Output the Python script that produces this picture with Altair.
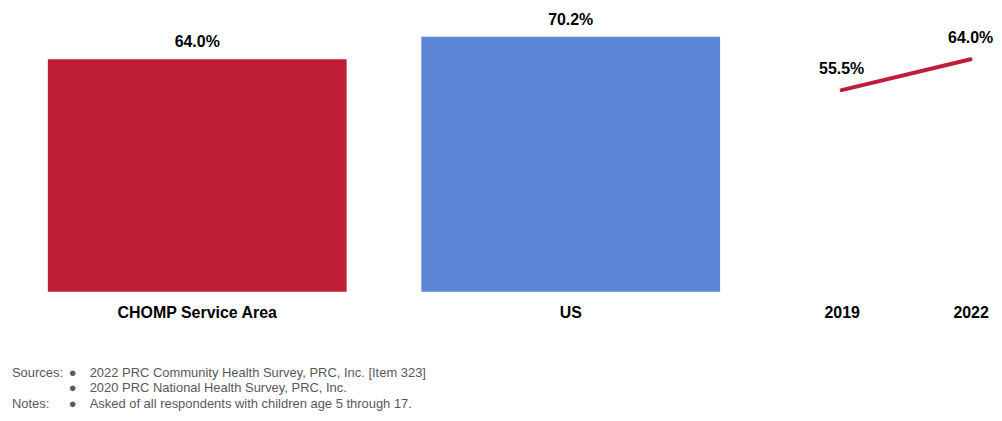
import altair as alt
import pandas as pd

areas = ["CHOMP Service Area", "US"]
area_values = [64.0, 70.2]
area_colors = ["#BE1E37", "#5B86D6"]

years = ["2019", "2022"]
trend_values = [55.5, 64.0]

source_lines = [
    "2022 PRC Community Health Survey, PRC, Inc. [Item 323]",
    "2020 PRC National Health Survey, PRC, Inc.",
]
note_lines = ["Asked of all respondents with children age 5 through 17."]

FONT = "Liberation Sans"
YMAX = 77.9

bars_df = pd.DataFrame({"area": areas, "value": area_values,
                        "label": [f"{v:.1f}%" for v in area_values]})
trend_df = pd.DataFrame({"year": years, "value": trend_values,
                         "label": [f"{v:.1f}%" for v in trend_values]})

yscale = alt.Scale(domain=[0, YMAX], nice=False, zero=True)

def xaxis():
    return alt.Axis(title=None, labelAngle=0, domain=False, ticks=False,
                    labelFontSize=16, labelFontWeight="bold", labelColor="black",
                    labelFont=FONT, labelPadding=13)

bx = alt.X("area:N", sort=areas,
           scale=alt.Scale(paddingInner=0.2, paddingOuter=0.1067), axis=xaxis())
by = alt.Y("value:Q", scale=yscale, axis=None)

bars = alt.Chart(bars_df).mark_bar().encode(
    x=bx, y=by,
    color=alt.Color("area:N", scale=alt.Scale(domain=areas, range=area_colors), legend=None),
)
bar_labels = alt.Chart(bars_df).mark_text(
    baseline="middle", dy=-17, fontSize=16, fontWeight="bold", font=FONT, color="black"
).encode(x=bx, y=by, text="label:N")

foot_style = dict(fontSize=13, font=FONT, color="#595959", baseline="middle")
foot_layers = []
foot_df = pd.DataFrame({"k": [0]})
foot_y = [365.5, 381, 396.5]
foot_layers.append(alt.Chart(foot_df).mark_text(align="left", text="Sources:", **foot_style)
                   .encode(x=alt.value(4), y=alt.value(foot_y[0])))
foot_layers.append(alt.Chart(foot_df).mark_text(align="left", text="Notes:", **foot_style)
                   .encode(x=alt.value(4), y=alt.value(foot_y[2])))
all_lines = source_lines + note_lines
for i, line in enumerate(all_lines):
    foot_layers.append(alt.Chart(foot_df).mark_text(align="center", text="●", **foot_style)
                       .encode(x=alt.value(65), y=alt.value(foot_y[i])))
    foot_layers.append(alt.Chart(foot_df).mark_text(align="left", text=line, **foot_style)
                       .encode(x=alt.value(82), y=alt.value(foot_y[i])))

bar_panel = alt.layer(bars, bar_labels, *foot_layers).properties(width=755, height=284)

lx = alt.X("year:N", sort=years, scale=alt.Scale(type="point", padding=0.15), axis=xaxis())
ly = alt.Y("value:Q", scale=yscale, axis=None)
line = alt.Chart(trend_df).mark_line(color="#BE1E37", strokeWidth=4, strokeCap="round").encode(x=lx, y=ly)
line_labels = alt.Chart(trend_df).mark_text(
    baseline="middle", dy=-21, fontSize=16, fontWeight="bold", font=FONT, color="black"
).encode(x=lx, y=ly, text="label:N")
line_panel = alt.layer(line, line_labels).properties(width=168.35, height=284)

chart = alt.hconcat(bar_panel, line_panel, spacing=58.6).configure(
    padding=0
).configure_view(stroke=None)

chart.save("out.html", embed_options={"renderer": "svg", "actions": False})
